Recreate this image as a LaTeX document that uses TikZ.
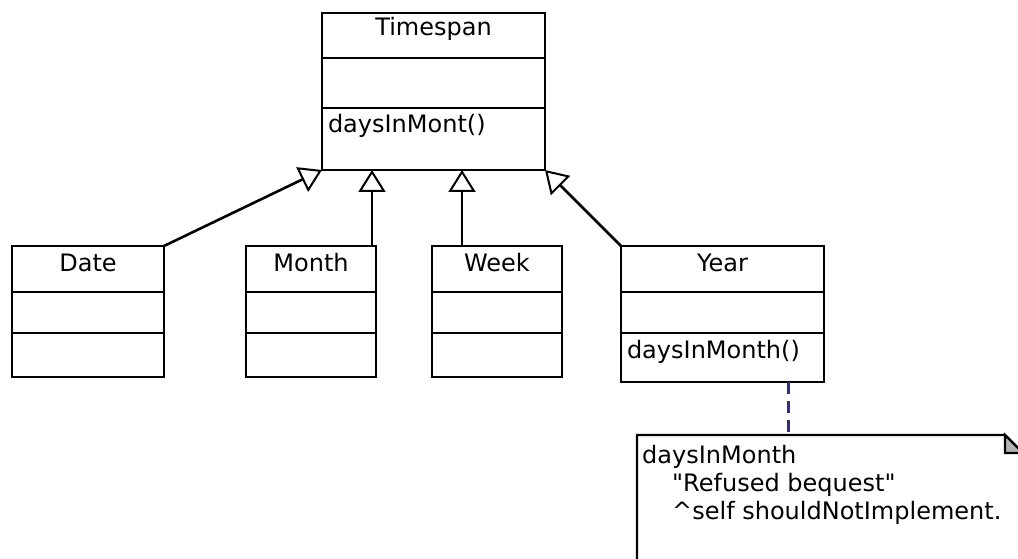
\documentclass[tikz,border=0pt]{standalone}
\usepackage{fontspec}
\newfontfamily\umlfont{DejaVu Sans}
\usetikzlibrary{arrows.meta,positioning}
\definecolor{notelink}{RGB}{45,45,140}
\definecolor{foldgray}{RGB}{180,180,180}

\begin{document}
\begin{tikzpicture}[
    x=1pt, y=-1pt,
    part/.style={draw, line width=2.4pt, inner sep=0pt, outer sep=0pt, font=\umlfont\fontsize{24}{28}\selectfont},
    title/.style={part, text height=25pt, text depth=21pt},
    attrs/.style={part, minimum height=41pt},
    ops/.style={part, inner xsep=6pt, text height=25pt},
    gen/.style={-{Triangle[length=22pt, width=27pt, fill=white, line width=2pt]}, line width=2.6pt},
    dep/.style={notelink, line width=3pt, dash pattern=on 12pt off 7pt}
]
    \fill[white] (0,0) rectangle (1018,559);
    \clip (0,0) rectangle (1018,559);

    % superclass
    \node[title, minimum width=223pt, text height=23pt, text depth=22pt, anchor=north west] (tsT) at (322,13) {Timespan};
    \node[attrs, minimum width=223pt, minimum height=50pt, below=0pt of tsT] (tsA) {};
    \node[ops, text width=211pt, text depth=37pt, below=0pt of tsA] (tsM) {daysInMont()};

    % subclasses
    \node[title, minimum width=152pt, anchor=north west] (dtT) at (12,246) {Date};
    \node[attrs, minimum width=152pt, below=0pt of dtT] (dtA) {};
    \node[part, minimum width=152pt, minimum height=44pt, below=0pt of dtA] (dtM) {};

    \node[title, minimum width=130pt, right=82pt of dtT] (moT) {Month};
    \node[attrs, minimum width=130pt, below=0pt of moT] (moA) {};
    \node[part, minimum width=130pt, minimum height=44pt, below=0pt of moA] (moM) {};

    \node[title, minimum width=130pt, right=56pt of moT] (wkT) {Week};
    \node[attrs, minimum width=130pt, below=0pt of wkT] (wkA) {};
    \node[part, minimum width=130pt, minimum height=44pt, below=0pt of wkA] (wkM) {};

    \node[title, minimum width=203pt, right=59pt of wkT] (yrT) {Year};
    \node[attrs, minimum width=203pt, below=0pt of yrT] (yrA) {};
    \node[ops, text width=191pt, text depth=24pt, below=0pt of yrA] (yrM) {daysInMonth()};

    % generalizations
    \draw[gen] (dtT.north east) -- (tsM.south west);
    \draw[gen] ([xshift=-4pt]moT.north east) -- ([xshift=-4pt]moT.north east |- tsM.south);
    \draw[gen] ([xshift=30pt]wkT.north west) -- ([xshift=30pt]wkT.north west |- tsM.south);
    \draw[gen] (yrT.north west) -- (tsM.south east);

    % note
    \coordinate (notetop) at (788,435);
    \draw[line width=2.4pt] (637,580) -- (637,435) -- (1005,435) -- (1023,453) -- (1023,580);
    \draw[line width=2.4pt, fill=foldgray] (1005,435) -- (1005,453) -- (1023,453) -- cycle;
    \node[font=\umlfont\fontsize{24}{28}\selectfont, align=left, inner sep=0pt, anchor=north west] (notebody) at (642,445)
        {daysInMonth\\\hspace*{30pt}"Refused bequest"\\\hspace*{30pt}\textasciicircum self shouldNotImplement.};
    \draw[dep] (yrM.south -| notetop) -- (notetop);

\end{tikzpicture}
\end{document}
